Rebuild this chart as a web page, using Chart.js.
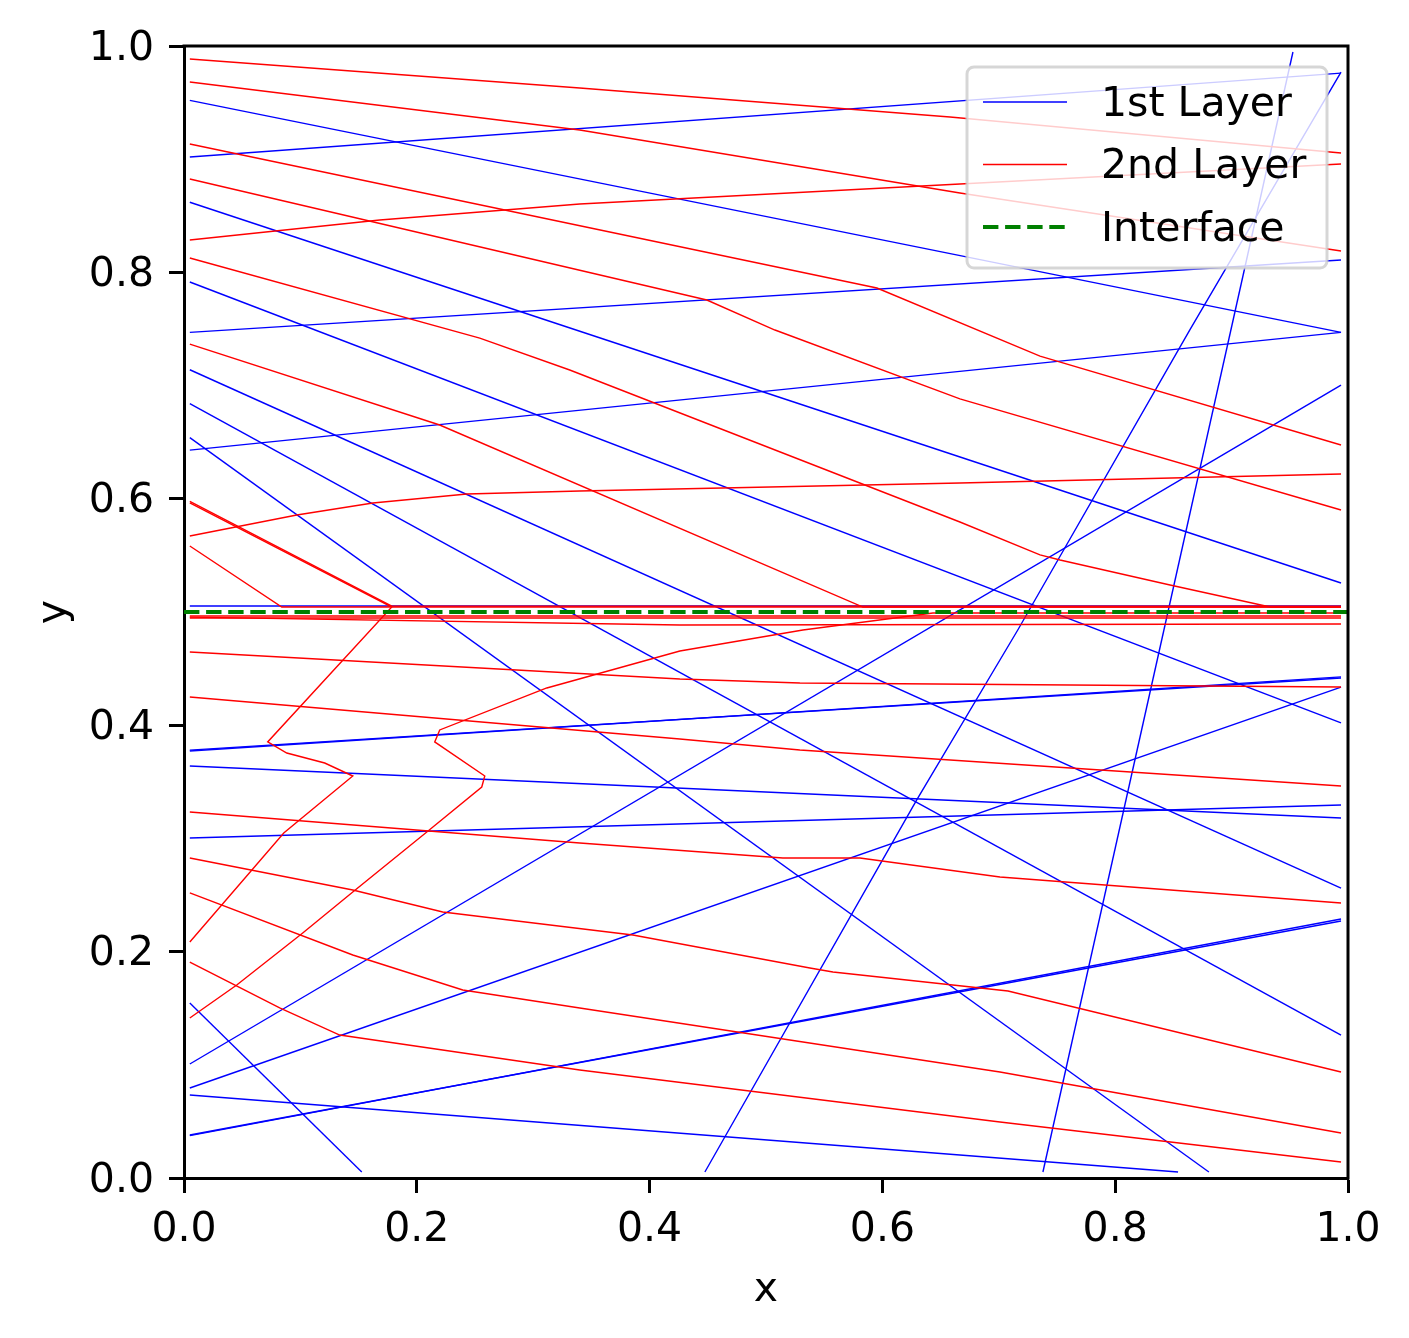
<!DOCTYPE html>
<html>
<head>
<meta charset="utf-8">
<script src="https://cdn.jsdelivr.net/npm/chart.js@4.4.1/dist/chart.umd.min.js"></script>
<style>
html,body{margin:0;padding:0;background:#fff;}
canvas{display:block;}
</style>
</head>
<body>
<canvas id="c" width="1409" height="1338" style="width:1409px;height:1338px"></canvas>
<script>
// ---- data (axis units) ----
const xTickValues = [0.0, 0.2, 0.4, 0.6, 0.8, 1.0];
const yTickValues = [0.0, 0.2, 0.4, 0.6, 0.8, 1.0];
const seriesNames = ["1st Layer", "2nd Layer", "Interface"];
const interfaceY = 0.5;

// 1st layer rays (blue), each a polyline of [x, y]
const blueRays = [
  [[0.005,0.952],[0.994,0.747]],
  [[0.005,0.902],[0.994,0.976]],
  [[0.005,0.862],[0.994,0.5256]],
  [[0.005,0.7915],[0.994,0.402]],
  [[0.005,0.747],[0.994,0.811]],
  [[0.005,0.714],[0.994,0.256]],
  [[0.005,0.684],[0.994,0.1263]],
  [[0.005,0.654],[0.8805,0.0053]],
  [[0.005,0.643],[0.994,0.747]],
  [[0.005,0.5053],[0.994,0.5053]],
  [[0.005,0.378],[0.994,0.4417]],
  [[0.005,0.3772],[0.994,0.4427]],
  [[0.005,0.364],[0.994,0.318]],
  [[0.005,0.3004],[0.994,0.3295]],
  [[0.005,0.1546],[0.1527,0.0053]],
  [[0.005,0.1007],[0.994,0.7005]],
  [[0.005,0.0795],[0.994,0.4337]],
  [[0.005,0.0733],[0.854,0.0053]],
  [[0.005,0.038],[0.994,0.227]],
  [[0.005,0.0374],[0.994,0.2288]],
  [[0.4475,0.0053],[0.6295,0.334],[0.7163,0.4841],[0.864,0.749],[0.994,0.977]],
  [[0.7379,0.0053],[0.9527,0.9947]]
];

// 2nd layer rays (red)
const redRays = [
  [[0.005,0.9885],[0.340,0.9629],[0.6581,0.9373],[0.994,0.9055]],
  [[0.005,0.9682],[0.340,0.9258],[0.6666,0.8701],[0.994,0.8189]],
  [[0.005,0.9134],[0.5953,0.7862],[0.7354,0.7261],[0.994,0.6475]],
  [[0.005,0.8825],[0.4492,0.7756],[0.5077,0.7491],[0.6666,0.6882],[0.994,0.5901]],
  [[0.005,0.8286],[0.1682,0.8463],[0.340,0.8604],[0.6666,0.8781],[0.994,0.8958]],
  [[0.005,0.8127],[0.2541,0.7420],[0.3314,0.7138],[0.6666,0.5795],[0.7354,0.5504],[0.7526,0.5459],[0.8471,0.5239],[0.9331,0.5044],[0.994,0.5044]],
  [[0.005,0.7367],[0.2197,0.6652],[0.5833,0.5044],[0.994,0.5044]],
  [[0.005,0.5671],[0.0969,0.5857],[0.1622,0.5963],[0.2430,0.6042],[0.340,0.6069],[0.6666,0.6140],[0.994,0.6219]],
  [[0.005,0.5963],[0.1785,0.5044],[0.0719,0.3852],[0.0883,0.3754],[0.1209,0.3666],[0.1450,0.3551],[0.0857,0.3048],[0.005,0.2085]],
  [[0.005,0.5978],[0.1785,0.5052],[0.994,0.5052]],
  [[0.005,0.5583],[0.084,0.5044],[0.994,0.5044]],
  [[0.005,0.1413],[0.0453,0.1705],[0.102,0.2164],[0.145,0.2527],[0.2086,0.3057],[0.2558,0.3454],[0.2584,0.3551],[0.2154,0.3852],[0.2197,0.3958],[0.3117,0.4329],[0.426,0.4655],[0.5317,0.4841],[0.6434,0.4991],[0.994,0.4991]],
  [[0.005,0.4965],[0.994,0.4965]],
  [[0.005,0.4955],[0.426,0.4885],[0.994,0.4894]],
  [[0.005,0.4947],[0.994,0.4947]],
  [[0.005,0.4647],[0.426,0.4408],[0.5291,0.4373],[0.994,0.4337]],
  [[0.005,0.4249],[0.426,0.3878],[0.5291,0.3781],[0.994,0.3463]],
  [[0.005,0.3233],[0.340,0.2959],[0.5145,0.2827],[0.5807,0.2827],[0.701,0.2659],[0.994,0.2429]],
  [[0.005,0.2827],[0.145,0.2544],[0.2223,0.235],[0.3856,0.2147],[0.5377,0.1855],[0.5575,0.182],[0.7079,0.1652],[0.994,0.0936]],
  [[0.005,0.2518],[0.145,0.197],[0.2395,0.1661],[0.340,0.1502],[0.701,0.0936],[0.994,0.0398]],
  [[0.005,0.1908],[0.0822,0.1502],[0.1338,0.1263],[0.340,0.0954],[0.701,0.0495],[0.994,0.0141]]
];

const interfaceLine = [[0.0, interfaceY],[1.0, interfaceY]];

// ---- styling ----
const BLUE = '#0000ff', RED = '#ff0000', GREEN = '#008000';
const FONT = "'DejaVu Sans', sans-serif";
const FS = 41;

function ds(pts, color, width, order, extra) {
  return Object.assign({
    data: pts.map(p => ({x: p[0], y: p[1]})),
    borderColor: color, backgroundColor: color,
    borderWidth: width, showLine: true, pointRadius: 0, pointHoverRadius: 0,
    fill: false, tension: 0, order: order
  }, extra || {});
}

const datasets = [];
datasets.push(ds(interfaceLine, GREEN, 4.2, 0, {label: seriesNames[2], borderDash: [15.4, 6.7]}));
redRays.forEach((r, i) => datasets.push(ds(r, RED, 1.4, 1, {label: seriesNames[1]})));
blueRays.forEach((r, i) => datasets.push(ds(r, BLUE, 1.4, 2, {label: seriesNames[0]})));

const framePlugin = {
  id: 'frame',
  afterDraw(chart) {
    const a = chart.chartArea, ctx = chart.ctx;
    ctx.save();
    ctx.strokeStyle = '#000';
    ctx.lineWidth = 3;
    ctx.lineCap = 'square';
    ctx.beginPath();
    ctx.moveTo(a.left, a.top); ctx.lineTo(a.right, a.top); ctx.lineTo(a.right, a.bottom);
    ctx.stroke();
    ctx.restore();
  }
};

const legendPlugin = {
  id: 'mplLegend',
  afterDraw(chart) {
    const a = chart.chartArea, ctx = chart.ctx;
    const w = 360, h = 201;
    const x0 = a.right - 21 - w, y0 = a.top + 21;
    const r = 7;
    ctx.save();
    ctx.beginPath();
    ctx.moveTo(x0 + r, y0);
    ctx.arcTo(x0 + w, y0, x0 + w, y0 + h, r);
    ctx.arcTo(x0 + w, y0 + h, x0, y0 + h, r);
    ctx.arcTo(x0, y0 + h, x0, y0, r);
    ctx.arcTo(x0, y0, x0 + w, y0, r);
    ctx.closePath();
    ctx.fillStyle = 'rgba(255,255,255,0.8)';
    ctx.fill();
    ctx.lineWidth = 3;
    ctx.strokeStyle = 'rgba(204,204,204,0.8)';
    ctx.stroke();
    const items = [
      {label: seriesNames[0], color: BLUE, dash: [], lw: 1.6},
      {label: seriesNames[1], color: RED, dash: [], lw: 1.6},
      {label: seriesNames[2], color: GREEN, dash: [15.4, 6.7], lw: 4.2}
    ];
    items.forEach((it, i) => {
      const y = y0 + 35 + i * 62.5;
      ctx.beginPath();
      ctx.setLineDash(it.dash);
      ctx.strokeStyle = it.color;
      ctx.lineWidth = it.lw;
      ctx.moveTo(x0 + 16, y); ctx.lineTo(x0 + 100, y);
      ctx.stroke();
      ctx.setLineDash([]);
      ctx.fillStyle = '#000';
      ctx.font = FS + 'px ' + FONT;
      ctx.textBaseline = 'middle';
      ctx.textAlign = 'left';
      ctx.fillText(it.label, x0 + 134, y + 3);
    });
    ctx.restore();
  }
};

const axisCommon = {
  type: 'linear', min: 0, max: 1,
  grid: {display: true, drawOnChartArea: false, tickLength: 15, tickWidth: 3, tickColor: '#000'},
  border: {display: true, color: '#000', width: 3}
};

new Chart(document.getElementById('c'), {
  type: 'scatter',
  data: {datasets: datasets},
  options: {
    responsive: false, animation: false, devicePixelRatio: 1,
    layout: {padding: {left: 0, top: 46, right: 61, bottom: 0}},
    plugins: {legend: {display: false}, tooltip: {enabled: false}},
    events: [],
    scales: {
      x: Object.assign({}, axisCommon, {
        position: 'bottom',
        afterBuildTicks: s => { s.ticks = xTickValues.map(v => ({value: v})); },
        afterFit: s => { s.height = 160; },
        ticks: {color: '#000', font: {family: FONT, size: FS}, padding: 13, maxRotation: 0, autoSkip: false,
                callback: v => Number(v).toFixed(1)},
        title: {display: true, text: 'x', color: '#000', font: {family: FONT, size: FS}, padding: {top: 0, bottom: 23}}
      }),
      y: Object.assign({}, axisCommon, {
        position: 'left',
        afterBuildTicks: s => { s.ticks = yTickValues.map(v => ({value: v})); },
        afterFit: s => { s.width = 184; },
        ticks: {color: '#000', font: {family: FONT, size: FS}, padding: 15, labelOffset: 3, autoSkip: false,
                callback: v => Number(v).toFixed(1)},
        title: {display: true, text: 'y', color: '#000', font: {family: FONT, size: FS}, padding: {top: 30, bottom: 0}}
      })
    }
  },
  plugins: [framePlugin, legendPlugin]
});
</script>
</body>
</html>
